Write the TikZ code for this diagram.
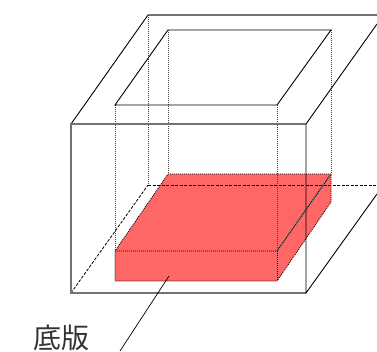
\documentclass[tikz,border=0pt]{standalone}
\usepackage{fontspec}
\newfontfamily\cjk{Noto Sans CJK JP}
\tikzset{
  edge/.style={draw=black,line width=0.9pt},
  grayedge/.style={draw=black!55,line width=1.2pt},
  dotline/.style={draw=black!75,line width=0.8pt,dash pattern=on 1pt off 1pt},
  dashline/.style={draw=black,line width=0.8pt,dash pattern=on 3pt off 1.5pt},
  redface/.style={fill=red!60!white,draw=none},
  reddot/.style={draw=black,line width=0.8pt,dash pattern=on 1pt off 1pt},
  ridge/.style={draw=black!50,line width=1.3pt}
}
\begin{document}
\begin{tikzpicture}[x=1pt,y=-1pt]
\useasboundingbox (0,0) rectangle (377,351);
\coordinate (oft) at (71,124); \coordinate (ofr) at (306,124);
\coordinate (ofb) at (71,293); \coordinate (ofbr) at (306,293);
\coordinate (obt) at (148,15); \coordinate (obtr) at (377,15);
\coordinate (obb) at (148,185); \coordinate (obbr) at (377,185);
\coordinate (ort) at (377,24); \coordinate (orb) at (377,194);
\coordinate (ibl) at (168,30); \coordinate (ibr) at (331,30);
\coordinate (ifl) at (115,105); \coordinate (ifr) at (277,105);
\coordinate (sbl) at (168,174); \coordinate (sbr) at (331,174);
\coordinate (sfl) at (115,251); \coordinate (sfr) at (277,251);
\coordinate (sfbl) at (115,281); \coordinate (sfbr) at (277,281);
\coordinate (sbbr) at (331,202);
\fill[redface] (sbl) -- (sbr) -- (sbbr) -- (sfbr) -- (sfbl) -- (sfl) -- cycle;
\draw[dotline] (obt) -- (obb);
\draw[dotline] (ifl) -- (sfl);
\draw[dotline] (ibl) -- (sbl);
\draw[dotline] (ifr) -- (sfr);
\draw[dotline] (ibr) -- (sbr);
\draw[dashline] (obb) -- (obbr);
\draw[dashline] (ofb) -- (obb);
\draw[reddot] (sbl) -- (sbr) -- (sbbr) -- (sfbr) -- (sfbl) -- (sfl) -- cycle;
\draw[ridge] (sfr) -- (sbr);
\draw[reddot] (sfl) -- (sfr) -- (sbr);
\draw[reddot] (sfr) -- (sfbr);
\draw[grayedge] (obtr) -- (obt);
\draw[edge] (obt) -- (oft);
\draw[edge] (ofr) -- (ort);
\draw[grayedge] (ofr) -- (oft) -- (ofb) -- (ofbr);
\draw[edge] (ofr) -- (ofbr) -- (orb);
\draw[edge] (ibl) -- (ibr) -- (ifr) -- (ifl) -- cycle;
\coordinate (leadA) at (169,276); \coordinate (leadB) at (120,351);
\draw[edge,line width=0.7pt] (leadA) -- (leadB);
\node[anchor=center,inner sep=0pt,text=black!80,font=\cjk\fontsize{28}{28}\selectfont] (lbl) at (61,338) {底版};
\end{tikzpicture}
\end{document}
